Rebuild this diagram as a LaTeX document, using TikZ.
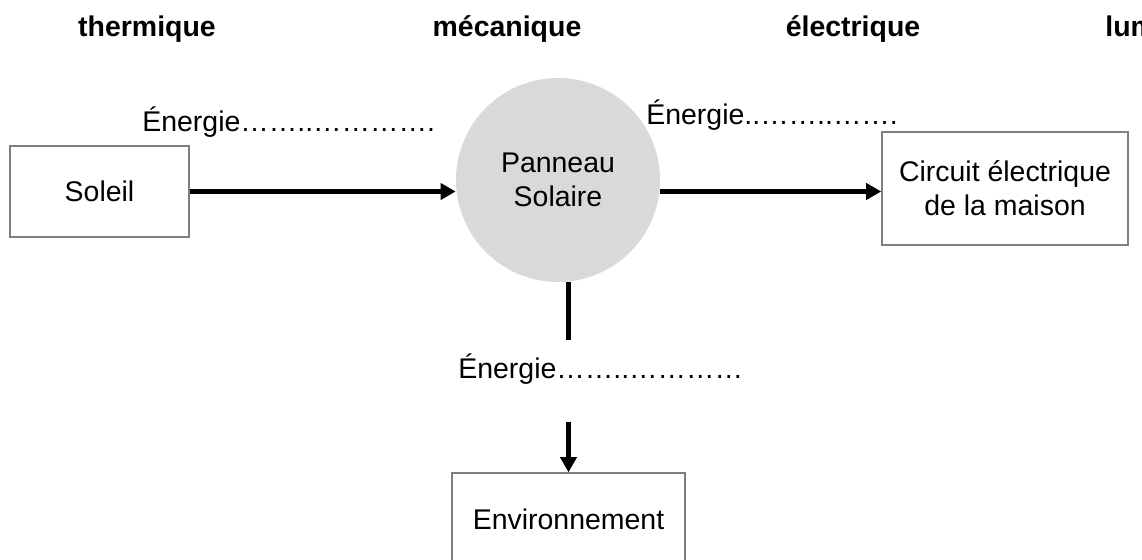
\documentclass[tikz,border=0pt]{standalone}
\usepackage{fontspec}
\setmainfont{Liberation Sans}
\usepackage{xcolor}
\usetikzlibrary{arrows.meta, positioning}
\definecolor{panelgray}{HTML}{D9D9D9}
\definecolor{boxline}{HTML}{7F7F7F}

\begin{document}
\begin{tikzpicture}[
    x = 0.02cm, y = -0.02cm,
    txt/.style  = {font = \fontsize{16.2}{19.4}\selectfont},
    box/.style  = {
      txt, rectangle, draw = boxline, line width = 0.9pt,
      align = center, inner sep = 0pt
    },
    disc/.style = {
      txt, circle, fill = panelgray, minimum size = 4.08cm,
      align = center, inner sep = 0pt
    },
    lbl/.style  = {txt, inner sep = 0pt, anchor = base west},
    kind/.style = {inner sep = 0pt, anchor = base, font = \fontsize{16.2}{19.4}\selectfont\bfseries},
    arr/.style  = {-{Triangle[length=0.3cm, width=0.32cm]}, line width = 2.3pt},
    seg/.style  = {line width = 2.3pt}
  ]
    \useasboundingbox (0,0) rectangle (1142,560);
    \clip (0,0) rectangle (1142,560);

    % ── Nodes ────────────────────────────────────────────────────────────────
    \node[box, minimum width = 3.58cm, minimum height = 1.82cm] (soleil)  at (99.5,191.5) {Soleil};
    \node[disc]                                                 (panneau) at (558,180)    {Panneau\\Solaire};
    \node[box, minimum width = 4.92cm, minimum height = 2.26cm] (circuit) at (1005,188.5) {Circuit électrique\\de la maison};
    \node[box, minimum width = 4.66cm, minimum height = 1.84cm] (envir)   at (568.5,519)  {Environnement};

    % ── Forms of energy ──────────────────────────────────────────────────────
    \node[kind]                   (thermo) at (147,37)  {thermique};
    \node[kind]                   (meca)   at (507,37)  {mécanique};
    \node[kind]                   (elec)   at (853,37)  {électrique};
    \node[kind, anchor=base west] (lum)    at (1105,37) {lumineuse};

    % ── Labels ───────────────────────────────────────────────────────────────
    \node[lbl] (nrjin)  at (142,132) {Énergie……..………….};
    \node[lbl] (nrjout) at (646,125) {Énergie..……..…….};
    \node[lbl] (nrjenv) at (458,378) {Énergie……..…………};

    \coordinate (cut1) at (568.5,340);
    \coordinate (cut2) at (568.5,422);

    % ── Arrows ───────────────────────────────────────────────────────────────
    \draw[arr] (soleil.east) -- (soleil.east -| panneau.west);
    \draw[arr] (panneau.east |- soleil.east) -- (circuit.west |- soleil.east);
    \draw[seg] (panneau.south -| cut1) -- (cut1);
    \draw[arr] (cut2) -- (envir.north);
  \end{tikzpicture}
\end{document}
